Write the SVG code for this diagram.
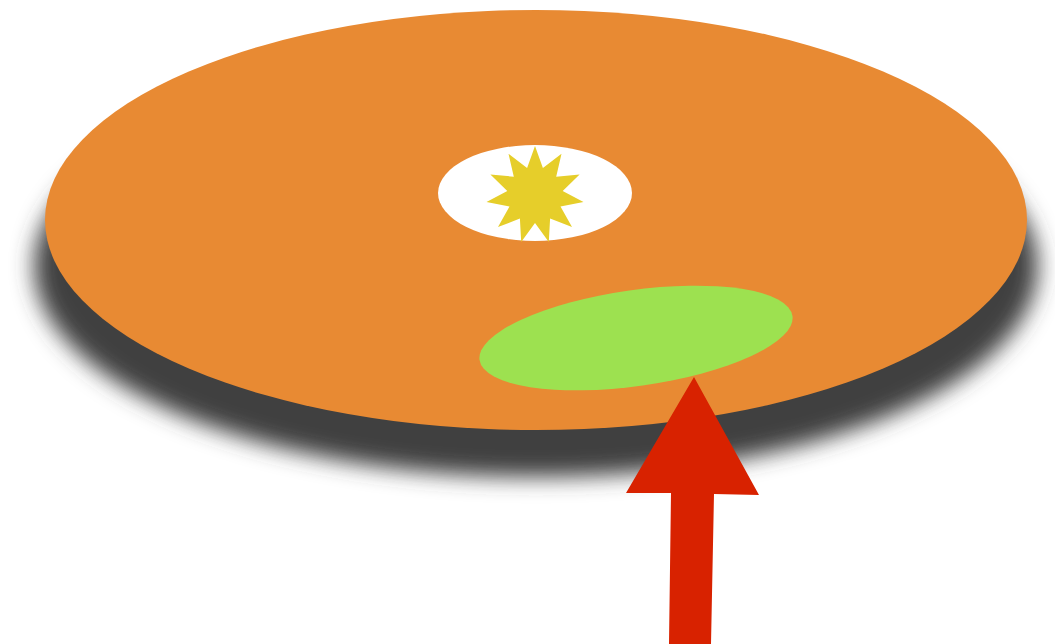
<svg xmlns="http://www.w3.org/2000/svg" width="1055" height="644" viewBox="0 0 1055 644">
  <defs>
    <filter id="blur" x="-10%" y="-20%" width="120%" height="140%">
      <feGaussianBlur stdDeviation="11"/>
    </filter>
    <style>
      .shadow { fill: #404040; }
      .disc { fill: #E88A33; }
      .hole { fill: #FFFFFF; }
      .star { fill: #E6CE2A; }
      .spot { fill: #9DE150; }
      .arrow { fill: #D82200; }
    </style>
  </defs>
  <rect width="1055" height="644" fill="#FFFFFF"/>
  <g id="disc">
    <ellipse class="shadow" cx="536" cy="266" rx="502" ry="211" filter="url(#blur)"/>
    <ellipse class="disc" cx="536" cy="220" rx="491" ry="210"/>
  </g>
  <g id="hole">
    <ellipse class="hole" cx="535" cy="193" rx="97" ry="48"/>
  </g>
  <g id="star">
    <polygon class="star" points="535,146 542.9,168.1 561.5,153.8 556.2,176.7 579.6,174.6 562.7,191.0 583.5,202.0 560.5,206.6 572.0,227.1 550.1,218.6 548.8,242.0 535,223 521.2,242.0 519.9,218.6 498.0,227.1 509.5,206.6 486.5,202.0 507.3,191.0 490.4,174.6 513.8,176.7 508.5,153.8 527.1,168.1"/>
  </g>
  <g id="spot">
    <ellipse class="spot" cx="636" cy="338" rx="158" ry="48" transform="rotate(-8 636 338)"/>
  </g>
  <g id="connectors">
    <polygon class="arrow" points="694,377 759,495 714,494 711,644 669,644 671,493 626,493"/>
  </g>
</svg>
